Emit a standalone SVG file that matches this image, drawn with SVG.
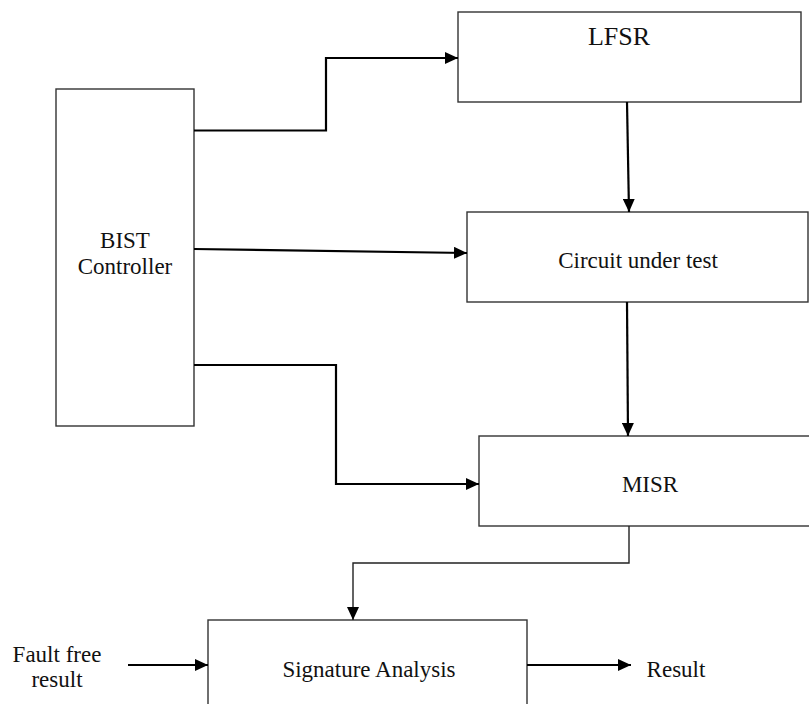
<svg xmlns="http://www.w3.org/2000/svg" width="809" height="704" viewBox="0 0 809 704">
<style>
.box{fill:#fff;stroke:#333;stroke-width:1.4}
.t{font-family:"Liberation Serif","Times New Roman",serif;font-size:23px;fill:#111;text-anchor:middle}
.c{fill:none;stroke:#000;stroke-width:2.2}
.c2{fill:none;stroke:#222;stroke-width:1.4}
</style>
<defs>
<marker id="ah" markerUnits="userSpaceOnUse" markerWidth="14" markerHeight="12" refX="13" refY="6" orient="auto">
<path d="M0,0 L13,6 L0,12 Z" fill="#000"/>
</marker>
</defs>
<rect width="809" height="704" fill="#fff"/>
<g id="bist"><rect class="box" x="56" y="89" width="138" height="337"/>
<text class="t" x="125" y="248">BIST</text><text class="t" x="125" y="274">Controller</text></g>
<g id="lfsr"><rect class="box" x="458" y="12" width="343" height="90"/>
<text class="t" x="619" y="45" style="font-size:26px">LFSR</text></g>
<g id="cut"><rect class="box" x="467" y="212" width="341" height="90"/>
<text class="t" x="638" y="268">Circuit under test</text></g>
<g id="misr"><rect class="box" x="479" y="436" width="335" height="90"/>
<text class="t" x="650" y="492">MISR</text></g>
<g id="sig"><rect class="box" x="208" y="620" width="319" height="100"/>
<text class="t" x="369" y="677">Signature Analysis</text></g>
<g id="labels">
<text class="t" x="57" y="662">Fault free</text><text class="t" x="57" y="687">result</text>
<text class="t" x="676" y="677">Result</text>
</g>
<g id="connectors">
<path class="c" d="M194,130.5 H326 V58 H458" marker-end="url(#ah)"/>
<path class="c" d="M194,249 L467,253" marker-end="url(#ah)"/>
<path class="c" d="M194,365 H336 V484 H479" marker-end="url(#ah)"/>
<path class="c" d="M627,102 L629,212" marker-end="url(#ah)"/>
<path class="c" d="M627,302 L628,436" marker-end="url(#ah)"/>
<path class="c2" d="M629,526 V563 H353 V620" marker-end="url(#ah)"/>
<path class="c" d="M128,665 H208" marker-end="url(#ah)"/>
<path class="c" d="M527,665 H631" marker-end="url(#ah)"/>
</g>
</svg>
